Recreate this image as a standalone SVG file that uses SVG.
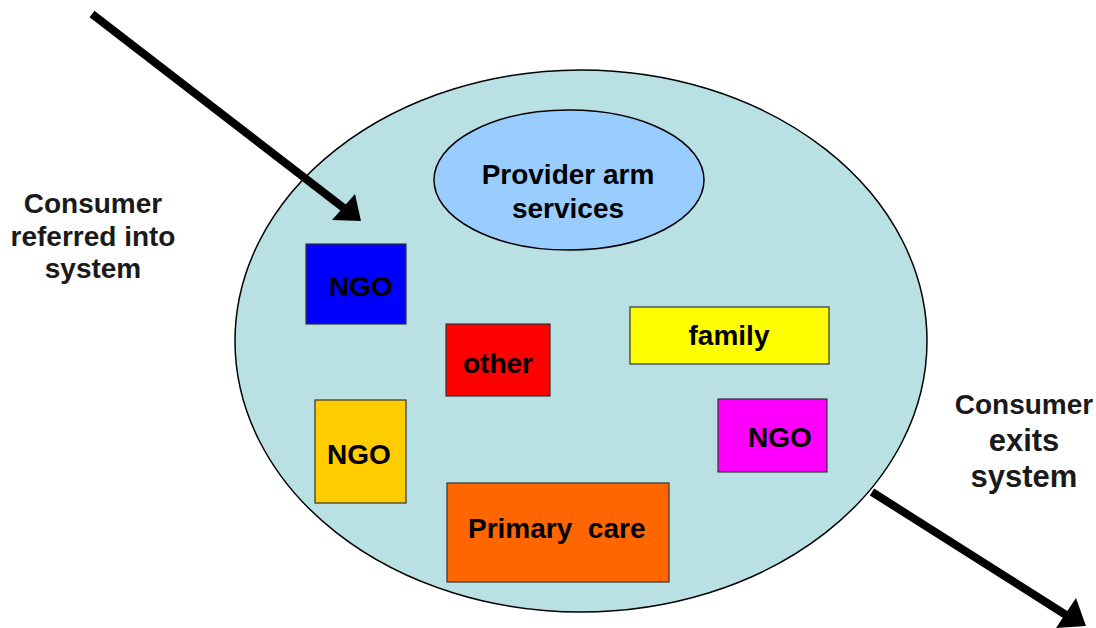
<svg xmlns="http://www.w3.org/2000/svg" width="1096" height="628" viewBox="0 0 1096 628">
  <style>
    text { font-family: "Liberation Sans", Arial, sans-serif; font-weight: bold; font-size: 28px; fill: #000; }
    .lbl { fill: #1a1a1a; }
    .big { font-size: 31px; }
    .box { stroke: #333; stroke-width: 1.2; }
    .ell { stroke: #000; stroke-width: 1.5; }
    .shaft { stroke: #000; stroke-width: 8; fill: none; }
    .head { fill: #000; }
  </style>
  <rect width="1096" height="628" fill="#fff"/>
  <g id="system">
    <ellipse class="ell" cx="581" cy="341" rx="346" ry="271" fill="#B9E0E3"/>
  </g>
  <g id="provider">
    <ellipse class="ell" cx="569" cy="180" rx="135" ry="70" fill="#99CCFF"/>
    <text x="568" y="184" text-anchor="middle">Provider arm</text>
    <text x="568" y="218" text-anchor="middle">services</text>
  </g>
  <g id="ngo-blue">
    <rect class="box" x="306" y="244" width="100" height="80" fill="#0000FF"/>
    <text x="329" y="296">NGO</text>
  </g>
  <g id="other">
    <rect class="box" x="446" y="324" width="104" height="72" fill="#FF0000"/>
    <text x="463" y="373">other</text>
  </g>
  <g id="ngo-gold">
    <rect class="box" x="315" y="400" width="91" height="103" fill="#FFCC00"/>
    <text x="327" y="464">NGO</text>
  </g>
  <g id="primary-care">
    <rect class="box" x="447" y="483" width="222" height="99" fill="#FF6600"/>
    <text x="468" y="538" xml:space="preserve">Primary  care</text>
  </g>
  <g id="family">
    <rect class="box" x="630" y="307" width="199" height="57" fill="#FFFF00"/>
    <text x="729" y="345" text-anchor="middle">family</text>
  </g>
  <g id="ngo-magenta">
    <rect class="box" x="718" y="399" width="109" height="73" fill="#FF00FF"/>
    <text x="748" y="447">NGO</text>
  </g>
  <g id="label-in">
    <text class="lbl" x="93" y="213" text-anchor="middle">Consumer</text>
    <text class="lbl" x="93" y="246" text-anchor="middle">referred into</text>
    <text class="lbl" x="93" y="278" text-anchor="middle">system</text>
  </g>
  <g id="label-out">
    <text class="lbl" x="1024" y="414" text-anchor="middle">Consumer</text>
    <text class="lbl big" x="1024" y="451" text-anchor="middle">exits</text>
    <text class="lbl big" x="1024" y="487" text-anchor="middle">system</text>
  </g>
  <g id="connectors">
    <line class="shaft" x1="92" y1="14" x2="345" y2="209"/>
    <polygon class="head" points="361,221 332,220 355,194"/>
    <line class="shaft" x1="872" y1="492" x2="1066" y2="615"/>
    <polygon class="head" points="1086,626 1056,628 1076,598"/>
  </g>
</svg>
